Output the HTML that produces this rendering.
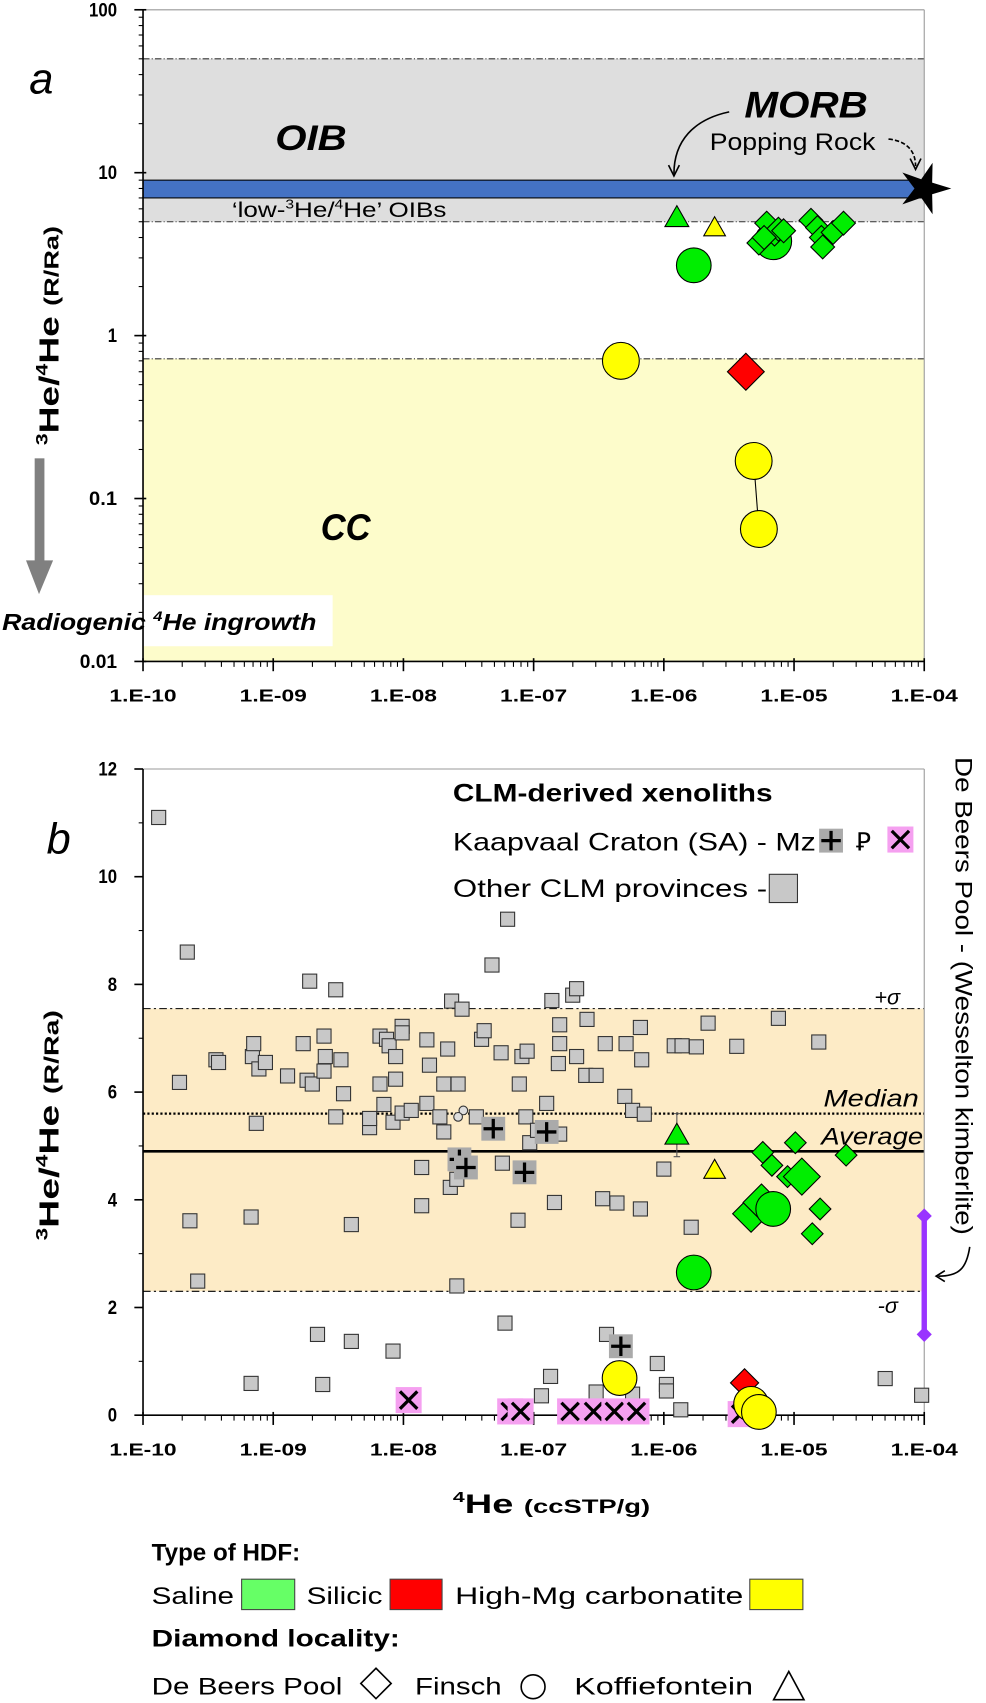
<!DOCTYPE html>
<html><head><meta charset="utf-8"><style>
html,body{margin:0;padding:0;background:#fff;}
svg{display:block;font-family:"Liberation Sans",sans-serif;}
</style></head><body>
<svg id="fig" width="986" height="1703" viewBox="0 0 910 1568" preserveAspectRatio="none" xmlns="http://www.w3.org/2000/svg">
<g id="panelA"></g>
<g id="panelB"></g>
<g id="legend">
  <text x="140" y="1437" font-size="22" font-weight="bold" textLength="137" lengthAdjust="spacingAndGlyphs">Type of HDF:</text>
  <text x="140" y="1477" font-size="22" textLength="76" lengthAdjust="spacingAndGlyphs">Saline</text>
  <rect x="223" y="1454" width="49" height="28" fill="#66ff66" stroke="#444"/>
  <text x="283" y="1477" font-size="22" textLength="70" lengthAdjust="spacingAndGlyphs">Silicic</text>
  <rect x="360" y="1454" width="48" height="28" fill="#ff0000" stroke="#444"/>
  <text x="420" y="1477" font-size="22" textLength="266" lengthAdjust="spacingAndGlyphs">High-Mg carbonatite</text>
  <rect x="692" y="1454" width="49" height="28" fill="#ffff00" stroke="#444"/>
  <text x="140" y="1516" font-size="22" font-weight="bold" textLength="229" lengthAdjust="spacingAndGlyphs">Diamond locality:</text>
  <text x="140" y="1560" font-size="22" textLength="176" lengthAdjust="spacingAndGlyphs">De Beers Pool</text>
  <path d="M347 1536 L361 1550 L347 1564 L333 1550 Z" fill="none" stroke="#000" stroke-width="1.5"/>
  <text x="383" y="1560" font-size="22" textLength="80" lengthAdjust="spacingAndGlyphs">Finsch</text>
  <circle cx="492" cy="1553" r="11" fill="none" stroke="#000" stroke-width="1.5"/>
  <text x="530" y="1560" font-size="22" textLength="165" lengthAdjust="spacingAndGlyphs">Koffiefontein</text>
  <path d="M728 1539 L742 1565 L714 1565 Z" fill="none" stroke="#000" stroke-width="1.5"/>
</g>
</svg>
<script>
// ---------- DATA ----------
// Panel a (log-log): HDF samples, x = log10(4He ccSTP/g), y = R/Ra
const aGreenDiamondX = [-5.27,-5.21,-5.15,-5.12,-5.08,-5.23,-4.87,-4.82,-4.79,-4.78,-4.70,-4.62];
const aGreenDiamondY = [3.7,4.9,4.2,4.5,4.4,4.0,5.1,4.6,4.0,3.5,4.3,4.9];
const aGreenCircleX = [-5.77,-5.16];
const aGreenCircleY = [2.7,3.8];
const aGreenTriangleX = [-5.90];
const aGreenTriangleY = [5.3];
const aYellowTriangleX = [-5.61];
const aYellowTriangleY = [4.6];
const aYellowCircleX = [-6.33,-5.31,-5.27];
const aYellowCircleY = [0.70,0.17,0.065];
const aRedDiamondX = [-5.37];
const aRedDiamondY = [0.60];
const aStarX = [-4.0];
const aStarY = [8.0];
const aYTicks = [100,10,1,0.1,0.01];
const aYTickLabels = ["100","10","1","0.1","0.01"];
const xTickExps = [-10,-9,-8,-7,-6,-5,-4];
const xTickLabels = ["1.E-10","1.E-09","1.E-08","1.E-07","1.E-06","1.E-05","1.E-04"];
const bandsA = [5,50,7,9,0.72]; // OIB low, OIB high, MORB low, MORB high, CC top

// Panel b (log-linear)
const grayX = [-9.88,-9.66,-9.72,-9.64,-9.58,-9.44,-9.42,-9.16,-9.15,-9.11,-9.13,-9.06,-9.17,-9.17,-8.89,-8.77,-8.74,-8.70,-8.72,-8.61,-8.61,-8.60,-8.48,-8.52,-8.52,-8.46,-8.66,-8.62,-8.40,-8.40,-8.26,-8.26,-8.18,-8.13,-8.11,-8.01,-8.01,-8.18,-8.06,-8.06,-8.15,-8.08,-8.01,-7.94,-8.08,-7.82,-7.80,-7.82,-7.86,-7.86,-7.72,-7.69,-7.69,-7.66,-7.63,-7.58,-7.55,-7.64,-7.59,-7.59,-7.44,-7.40,-7.38,-7.32,-7.25,-7.24,-7.22,-7.20,-7.11,-7.09,-7.05,-7.06,-7.12,-7.03,-6.97,-6.90,-6.86,-6.80,-6.80,-6.81,-6.80,-6.84,-6.70,-6.67,-6.67,-6.59,-6.60,-6.52,-6.45,-6.47,-6.36,-6.44,-6.52,-6.94,-6.87,-6.30,-6.29,-6.24,-6.18,-6.17,-6.15,-6.18,-6.24,-6.05,-5.98,-5.98,-5.87,-6.00,-5.92,-5.86,-5.75,-5.79,-5.66,-5.44,-5.12,-4.81,-4.30,-4.02];
const grayY = [11.1,8.6,6.18,3.61,2.49,6.6,6.55,6.66,6.9,6.43,5.42,6.55,3.68,0.59,6.3,6.9,6.22,6.15,8.06,7.04,6.39,6.66,6.6,7.9,5.54,5.97,1.5,0.57,1.37,3.54,5.34,5.51,7.04,6.98,6.86,7.22,7.1,6.15,6.24,6.66,5.77,5.44,5.61,5.66,1.19,6.97,6.5,5.79,4.6,3.89,5.54,5.26,6.15,6.8,7.69,6.15,7.54,4.23,4.38,2.4,5.54,6.98,7.14,8.36,6.73,4.68,1.71,9.21,6.15,6.66,6.76,5.54,3.62,5.06,5.29,5.79,7.7,7.25,6.9,6.53,5.22,3.95,7.8,7.92,6.66,7.35,6.31,6.31,6.9,4.02,3.94,1.5,0.43,0.36,0.72,5.92,6.9,5.66,7.2,6.6,5.59,3.83,0.39,0.96,0.57,0.45,0.1,4.57,6.86,6.86,6.84,3.49,7.28,6.85,7.37,6.93,0.68,0.37];
const smallCircleX = [-7.54,-7.58];
const smallCircleY = [5.66,5.54];
const mzX = [-7.31,-7.57,-7.52,-7.07,-6.90,-6.33];
const mzY = [5.32,4.75,4.6,4.51,5.26,1.28];
const pzX = [-7.96,-7.18,-7.10,-6.72,-6.54,-6.38,-6.21,-5.41];
const pzY = [0.28,0.07,0.07,0.07,0.07,0.07,0.07,0.02];
const bGreenDiamondX = [-5.24,-5.17,-5.05,-5.33,-5.25,-4.99,-4.94,-4.80,-4.86,-4.60];
const bGreenDiamondY = [4.88,4.64,4.43,3.74,3.95,5.06,4.43,3.83,3.37,4.83];
const bGreenDiamondBig = [0,0,0,1,1,0,1,0,0,0];
const bGreenCircleX = [-5.77,-5.16];
const bGreenCircleY = [2.65,3.83];
const bGreenTriangleX = [-5.90];
const bGreenTriangleY = [5.2];
const bGreenTriangleErr = [0.4];
const bYellowTriangleX = [-5.61];
const bYellowTriangleY = [4.55];
const bYellowTriangleErr = [0.15];
const bYellowCircleX = [-6.34,-5.33,-5.27];
const bYellowCircleY = [0.69,0.21,0.06];
const bRedDiamondX = [-5.38];
const bRedDiamondY = [0.6];
const bYTicks = [0,2,4,6,8,10,12];
const statsB = [7.55,2.3,5.6,4.9]; // +sigma, -sigma, median, average
const deBeersRange = [1.5,3.7];

// ---------- helpers ----------
const NS="http://www.w3.org/2000/svg";
function mk(parent,tag,attrs,name,text){
  const e=document.createElementNS(NS,tag);
  for(const k in attrs)e.setAttribute(k,attrs[k]);
  
  
  if(text!==undefined)e.textContent=text;
  parent.appendChild(e);return e;
}
const L=132,R=853;
function X(lx){return L+(lx+10)*(R-L)/6;}
function YA(v){return 309-150*Math.log10(v);}
function YB(v){return 1303-49.58*v;}
const F='"Liberation Sans",sans-serif';

function diamond(g,cx,cy,r,fill,name){return mk(g,'path',{d:`M${cx} ${cy-r}L${cx+r} ${cy}L${cx} ${cy+r}L${cx-r} ${cy}Z`,fill:fill,stroke:'#000','stroke-width':1},name);}
function tri(g,cx,cy,r,fill,name){return mk(g,'path',{d:`M${cx} ${cy-r}L${cx+r} ${cy+r*0.75}L${cx-r} ${cy+r*0.75}Z`,fill:fill,stroke:'#000','stroke-width':1},name);}
function yLabel(g,y,s){
  mk(g,'text',{x:L-24,y:y+6,'font-size':18,'font-weight':'bold','text-anchor':'end','font-family':F,textLength:s.length*8.6,lengthAdjust:'spacingAndGlyphs'},'y-tick-label',s);
}

function xAxis(g,yb){
  mk(g,'line',{x1:L,y1:yb,x2:R,y2:yb,stroke:'#000','stroke-width':1.5},'x-axis-line');
  for(let d=-10;d<-4;d++){
    for(let m=2;m<10;m++){
      const x=X(d+Math.log10(m));
      mk(g,'line',{x1:x,y1:yb,x2:x,y2:yb+5,stroke:'#000','stroke-width':1},'x-minor-tick');
    }
  }
  xTickExps.forEach((e,i)=>{
    const x=X(e);
    mk(g,'line',{x1:x,y1:yb-3,x2:x,y2:yb+9,stroke:'#000','stroke-width':1.5},'x-major-tick');
    mk(g,'text',{x:x,y:yb+37,'font-size':16,'font-weight':'bold','text-anchor':'middle','font-family':F,textLength:62,lengthAdjust:'spacingAndGlyphs'},'x-tick-label',xTickLabels[i]);
  });
}
function yTitle(g,y0,len,name){
  const yt=mk(g,'text',{transform:`translate(54,${y0}) rotate(-90)`,'font-size':26,'font-weight':'bold','font-family':F,textLength:len,lengthAdjust:'spacingAndGlyphs'},name);
  yt.innerHTML='<tspan font-size="15" dy="-10">3</tspan><tspan dy="10">He/</tspan><tspan font-size="15" dy="-10">4</tspan><tspan dy="10">He </tspan><tspan font-size="19">(R/Ra)</tspan>';
}

// ---------- Panel A ----------
(function(){
  const g=document.getElementById('panelA');
  const top=9,bot=609;
  mk(g,'rect',{x:L,y:YA(bandsA[1]),width:R-L,height:YA(bandsA[0])-YA(bandsA[1]),fill:'#dedede'},'oib-band');
  mk(g,'rect',{x:L,y:YA(bandsA[4]),width:R-L,height:bot-YA(bandsA[4]),fill:'#fdfccb'},'cc-band');
  [bandsA[1],bandsA[0],bandsA[4]].forEach(v=>{
    mk(g,'line',{x1:L,y1:YA(v),x2:R,y2:YA(v),stroke:'#333','stroke-width':1,'stroke-dasharray':'6 2 1 2'},'dash-dot-boundary');
  });
  mk(g,'rect',{x:L,y:YA(bandsA[3]),width:R-L,height:YA(bandsA[2])-YA(bandsA[3]),fill:'#4472c4',stroke:'#000','stroke-width':1},'morb-band');
  mk(g,'rect',{x:0,y:548,width:307,height:47,fill:'#fff'},'label-background');
  mk(g,'line',{x1:R,y1:top,x2:R,y2:bot,stroke:'#999','stroke-width':1},'right-border');
  mk(g,'line',{x1:L,y1:top,x2:R,y2:top,stroke:'#999','stroke-width':1},'top-border');
  mk(g,'line',{x1:L,y1:top,x2:L,y2:bot,stroke:'#000','stroke-width':1.5},'y-axis-line');
  aYTicks.forEach((v,i)=>{
    const y=YA(v);
    mk(g,'line',{x1:L-8,y1:y,x2:L+3,y2:y,stroke:'#000','stroke-width':1.5},'y-major-tick');
    yLabel(g,y,aYTickLabels[i]);
  });
  for(let d=-2;d<2;d++)for(let m=2;m<10;m++){
    const y=YA(Math.pow(10,d)*m);
    mk(g,'line',{x1:L-4,y1:y,x2:L,y2:y,stroke:'#000','stroke-width':1},'y-minor-tick');
  }
  xAxis(g,bot);
  aGreenCircleX.forEach((x,i)=>mk(g,'circle',{cx:X(x),cy:YA(aGreenCircleY[i]),r:i==1?17:16,fill:'#00ee00',stroke:'#000','stroke-width':1},'saline-finsch-point'));
  aGreenDiamondX.forEach((x,i)=>diamond(g,X(x),YA(aGreenDiamondY[i]),11,'#00ee00','saline-debeers-point'));
  aGreenTriangleX.forEach((x,i)=>tri(g,X(x),YA(aGreenTriangleY[i]),11,'#00ee00','saline-koffiefontein-point'));
  aYellowTriangleX.forEach((x,i)=>tri(g,X(x),YA(aYellowTriangleY[i]),10,'#ffff00','carbonatite-koffiefontein-point'));
  mk(g,'line',{x1:X(aYellowCircleX[1]),y1:YA(aYellowCircleY[1]),x2:X(aYellowCircleX[2]),y2:YA(aYellowCircleY[2]),stroke:'#000'},'tie-line');
  aYellowCircleX.forEach((x,i)=>mk(g,'circle',{cx:X(x),cy:YA(aYellowCircleY[i]),r:17,fill:'#ffff00',stroke:'#000','stroke-width':1},'carbonatite-finsch-point'));
  aRedDiamondX.forEach((x,i)=>diamond(g,X(x),YA(aRedDiamondY[i]),17,'#ff0000','silicic-point'));
  aStarX.forEach((x,i)=>{
    const cx=X(x),cy=YA(aStarY[i]);let p='';
    for(let k=0;k<10;k++){const r=k%2?9:25,a=-Math.PI/2+k*Math.PI/5+Math.PI/10;p+=(k?'L':'M')+(cx+r*Math.cos(a)).toFixed(1)+' '+(cy+r*Math.sin(a)).toFixed(1);}
    mk(g,'path',{d:p+'Z',fill:'#000'},'popping-rock-star');
  });
  mk(g,'text',{x:27,y:86,'font-size':40,'font-style':'italic','font-family':F},'panel-a-label','a');
  mk(g,'text',{x:254,y:138,'font-size':32,'font-weight':'bold','font-style':'italic','font-family':F,textLength:66,lengthAdjust:'spacingAndGlyphs'},'oib-label','OIB');
  mk(g,'text',{x:296,y:497,'font-size':34,'font-weight':'bold','font-style':'italic','font-family':F,textLength:46,lengthAdjust:'spacingAndGlyphs'},'cc-label','CC');
  mk(g,'text',{x:687,y:108,'font-size':34,'font-weight':'bold','font-style':'italic','font-family':F,textLength:114,lengthAdjust:'spacingAndGlyphs'},'morb-label','MORB');
  mk(g,'text',{x:655,y:138,'font-size':22,'font-family':F,textLength:153,lengthAdjust:'spacingAndGlyphs'},'popping-rock-label','Popping Rock');
  const t=mk(g,'text',{x:214,y:200,'font-size':20,'font-family':F,textLength:198,lengthAdjust:'spacingAndGlyphs'},'low-he-oib-label');
  t.innerHTML='‘low-<tspan font-size="12" dy="-8">3</tspan><tspan dy="8">He/</tspan><tspan font-size="12" dy="-8">4</tspan><tspan dy="8">He’ OIBs</tspan>';
  mk(g,'path',{d:'M673 103 C640 110 622 130 622 160',fill:'none',stroke:'#000','stroke-width':1.5},'morb-arrow');
  mk(g,'path',{d:'M617 152 L622 162 L627 152',fill:'none',stroke:'#000','stroke-width':1.5},'morb-arrowhead');
  mk(g,'path',{d:'M820 128 C838 130 845 140 845 153',fill:'none',stroke:'#000','stroke-width':1.5,'stroke-dasharray':'4 2'},'star-arrow');
  mk(g,'path',{d:'M840 146 L845 156 L850 146',fill:'none',stroke:'#000','stroke-width':1.5},'star-arrowhead');
  yTitle(g,410,202,'y-axis-title-a');
  mk(g,'rect',{x:32,y:422,width:9,height:100,fill:'#808080'},'radiogenic-arrow-shaft');
  mk(g,'path',{d:'M24 516 L49 516 L36 547 Z',fill:'#808080'},'radiogenic-arrow-head');
  const rt=mk(g,'text',{x:2,y:580,'font-size':21,'font-weight':'bold','font-style':'italic','font-family':F,textLength:290,lengthAdjust:'spacingAndGlyphs'},'radiogenic-label');
  rt.innerHTML='Radiogenic <tspan font-size="13" dy="-8">4</tspan><tspan dy="8">He ingrowth</tspan>';
})();

// ---------- Panel B ----------
(function(){
  const g=document.getElementById('panelB');
  const top=YB(12),bot=YB(0);
  mk(g,'rect',{x:L,y:YB(statsB[0]),width:R-L,height:YB(statsB[1])-YB(statsB[0]),fill:'#fdebc6'},'sigma-band');
  mk(g,'line',{x1:L,y1:YB(statsB[0]),x2:R,y2:YB(statsB[0]),stroke:'#000','stroke-width':1,'stroke-dasharray':'7 3 2 3'},'plus-sigma-line');
  mk(g,'line',{x1:L,y1:YB(statsB[1]),x2:R,y2:YB(statsB[1]),stroke:'#000','stroke-width':1,'stroke-dasharray':'7 3 2 3'},'minus-sigma-line');
  mk(g,'line',{x1:L,y1:YB(statsB[2]),x2:R,y2:YB(statsB[2]),stroke:'#000','stroke-width':2,'stroke-dasharray':'2 2'},'median-line');
  mk(g,'line',{x1:L,y1:YB(statsB[3]),x2:R,y2:YB(statsB[3]),stroke:'#000','stroke-width':2.5},'average-line');
  mk(g,'line',{x1:R,y1:top,x2:R,y2:bot,stroke:'#999'},'right-border');
  mk(g,'line',{x1:L,y1:top,x2:R,y2:top,stroke:'#999'},'top-border');
  mk(g,'line',{x1:L,y1:top,x2:L,y2:bot,stroke:'#000','stroke-width':1.5},'y-axis-line');
  bYTicks.forEach(v=>{
    const y=YB(v);
    mk(g,'line',{x1:L-8,y1:y,x2:L,y2:y,stroke:'#000','stroke-width':1.5},'y-major-tick');
    yLabel(g,y,String(v));
    if(v<12){const ym=YB(v+1);mk(g,'line',{x1:L-4,y1:ym,x2:L,y2:ym,stroke:'#000'},'y-minor-tick');}
  });
  xAxis(g,bot);
  grayX.forEach((x,i)=>mk(g,'rect',{x:X(x)-6.5,y:YB(grayY[i])-6.5,width:13,height:13,fill:'#c8c8c8',stroke:'#333','stroke-width':1},'other-clm-point'));
  smallCircleX.forEach((x,i)=>mk(g,'circle',{cx:X(x),cy:YB(smallCircleY[i]),r:4,fill:'#ddd',stroke:'#333'},'small-xenolith-point'));
  mzX.forEach((x,i)=>{
    const cx=X(x),cy=YB(mzY[i]);
    mk(g,'rect',{x:cx-11,y:cy-11,width:22,height:22,fill:'#aaa'},'mz-kaapvaal-point');
    mk(g,'path',{d:`M${cx-9} ${cy}H${cx+9}M${cx} ${cy-9}V${cy+9}`,stroke:'#000','stroke-width':3},'mz-plus');
  });
  pzX.forEach((x,i)=>{
    const cx=X(x),cy=YB(pzY[i]);
    mk(g,'rect',{x:cx-12,y:cy-12,width:24,height:24,fill:'#f5a0f0'},'pz-kaapvaal-point');
    mk(g,'path',{d:`M${cx-8} ${cy-8}L${cx+8} ${cy+8}M${cx+8} ${cy-8}L${cx-8} ${cy+8}`,stroke:'#000','stroke-width':3},'pz-cross');
  });
  bGreenTriangleX.forEach((x,i)=>{const cx=X(x),cy=YB(bGreenTriangleY[i]),e=bGreenTriangleErr[i];
    mk(g,'path',{d:`M${cx} ${YB(bGreenTriangleY[i]+e)}V${YB(bGreenTriangleY[i]-e)}M${cx-3} ${YB(bGreenTriangleY[i]+e)}h6M${cx-3} ${YB(bGreenTriangleY[i]-e)}h6`,stroke:'#555'},'error-bar');
    tri(g,cx,cy,11,'#00ee00','saline-koffiefontein-point');});
  bYellowTriangleX.forEach((x,i)=>{const cx=X(x),cy=YB(bYellowTriangleY[i]),e=bYellowTriangleErr[i];
    mk(g,'path',{d:`M${cx} ${YB(bYellowTriangleY[i]+e)}V${YB(bYellowTriangleY[i]-e)}M${cx-3} ${YB(bYellowTriangleY[i]-e)}h6`,stroke:'#555'},'error-bar');
    tri(g,cx,cy,10,'#ffff00','carbonatite-koffiefontein-point');});
  bGreenDiamondX.forEach((x,i)=>diamond(g,X(x),YB(bGreenDiamondY[i]),bGreenDiamondBig[i]?17:10,'#00ee00','saline-debeers-point'));
  bGreenCircleX.forEach((x,i)=>mk(g,'circle',{cx:X(x),cy:YB(bGreenCircleY[i]),r:16,fill:'#00ee00',stroke:'#000'},'saline-finsch-point'));
  bRedDiamondX.forEach((x,i)=>diamond(g,X(x),YB(bRedDiamondY[i]),13,'#ff0000','silicic-point'));
  bYellowCircleX.forEach((x,i)=>mk(g,'circle',{cx:X(x),cy:YB(bYellowCircleY[i]),r:16,fill:'#ffff00',stroke:'#000'},'carbonatite-finsch-point'));
  const y1=YB(deBeersRange[0]),y2=YB(deBeersRange[1]);
  mk(g,'line',{x1:R,y1:y1,x2:R,y2:y2,stroke:'#9933ff','stroke-width':5},'de-beers-range-bar');
  diamond(g,R,y1,7,'#9933ff','de-beers-range-min').setAttribute('stroke','none');
  diamond(g,R,y2,7,'#9933ff','de-beers-range-max').setAttribute('stroke','none');
  mk(g,'path',{d:'M895 1148 C892 1168 885 1175 866 1175',fill:'none',stroke:'#000','stroke-width':1.5},'de-beers-arrow');
  mk(g,'path',{d:'M872 1170 L864 1175 L872 1180',fill:'none',stroke:'#000','stroke-width':1.5},'de-beers-arrowhead');
  mk(g,'text',{transform:'translate(882,697) rotate(90)','font-size':22,'font-family':F,textLength:440,lengthAdjust:'spacingAndGlyphs'},'de-beers-side-label','De Beers Pool - (Wesselton kimberlite)');
  mk(g,'text',{x:807,y:925,'font-size':20,'font-style':'italic','font-family':F},'plus-sigma-label','+σ');
  mk(g,'text',{x:810,y:1209,'font-size':20,'font-style':'italic','font-family':F},'minus-sigma-label','-σ');
  mk(g,'text',{x:760,y:1019,'font-size':22,'font-style':'italic','font-family':F,textLength:88,lengthAdjust:'spacingAndGlyphs'},'median-label','Median');
  mk(g,'text',{x:758,y:1054,'font-size':22,'font-style':'italic','font-family':F,textLength:94,lengthAdjust:'spacingAndGlyphs'},'average-label','Average');
  mk(g,'text',{x:43,y:786,'font-size':40,'font-style':'italic','font-family':F},'panel-b-label','b');
  mk(g,'text',{x:418,y:738,'font-size':23,'font-weight':'bold','font-family':F,textLength:295,lengthAdjust:'spacingAndGlyphs'},'clm-legend-title','CLM-derived xenoliths');
  mk(g,'text',{x:418,y:783,'font-size':23,'font-family':F,textLength:335,lengthAdjust:'spacingAndGlyphs'},'kaapvaal-legend-label','Kaapvaal Craton (SA) - Mz');
  mk(g,'rect',{x:756,y:763,width:22,height:22,fill:'#aaa'},'legend-mz-swatch');
  mk(g,'path',{d:'M758 774H776M767 765V783',stroke:'#000','stroke-width':3},'legend-mz-plus');
  mk(g,'text',{x:790,y:783,'font-size':23,'font-family':F},'legend-pz-symbol','Ꝑ');
  mk(g,'rect',{x:819,y:761,width:24,height:24,fill:'#f5a0f0'},'legend-pz-swatch');
  mk(g,'path',{d:'M823 765L839 781M839 765L823 781',stroke:'#000','stroke-width':3},'legend-pz-cross');
  mk(g,'text',{x:418,y:826,'font-size':23,'font-family':F,textLength:290,lengthAdjust:'spacingAndGlyphs'},'other-clm-legend-label','Other CLM provinces -');
  mk(g,'rect',{x:710,y:805,width:26,height:26,fill:'#c8c8c8',stroke:'#333'},'legend-other-clm-swatch');
  yTitle(g,1142,212,'y-axis-title-b');
  const xt=mk(g,'text',{x:418,y:1393,'font-size':25,'font-weight':'bold','font-family':F,textLength:182,lengthAdjust:'spacingAndGlyphs'},'x-axis-title');
  xt.innerHTML='<tspan font-size="14" dy="-10">4</tspan><tspan dy="10">He </tspan><tspan font-size="18">(ccSTP/g)</tspan>';
})();
</script>
</body></html>
